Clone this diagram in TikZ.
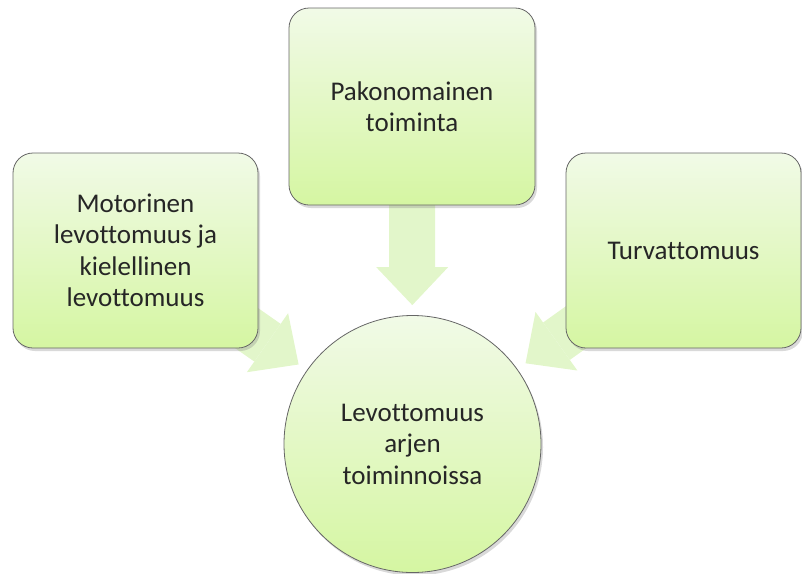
\documentclass[tikz,border=0pt]{standalone}
\usepackage{fontspec}
\setmainfont{Carlito}[Ligatures={NoCommon}]
\usetikzlibrary{shapes,shapes.geometric,arrows.meta,backgrounds,shadows}
\definecolor{vih_yla}{HTML}{F1FAE7}
\definecolor{vih_ala}{HTML}{D5F6A2}
\definecolor{nuoli_v}{HTML}{E2F6CA}
\tikzset{
  solmu/.style = {align=center, inner sep=0pt, text centered, font=\fontsize{27}{31.5}\selectfont, text=black!85,
    draw=black!60, line width=0.8pt, top color=vih_yla, bottom color=vih_ala,
    drop shadow={shadow xshift=2pt, shadow yshift=-3pt, opacity=0.3}},
  box_v/.style = {solmu, rectangle, rounded corners=20pt},
  circ_v/.style = {solmu, circle, minimum size=257pt},
  arr_v/.style = {nuoli_v, line width=46pt, shorten >=10pt, -{Triangle[length=38pt, width=72pt, line width=0pt]}}
}
\begin{document}
\begin{tikzpicture}[x=1pt, y=-1pt]
\useasboundingbox (0,0) rectangle (802,573);
\node [box_v, minimum width=246pt, minimum height=197pt] (pako) at (412,106.5) {Pakonomainen\\toiminta};
\node [box_v, minimum width=245pt, minimum height=195pt] (moto) at (135.5,250.5) {Motorinen\\levottomuus ja\\kielellinen\\levottomuus};
\node [box_v, minimum width=235pt, minimum height=195pt] (turva) at (683.5,250.5) {Turvattomuus};
\node [circ_v] (levo) at (412.5,444) {Levottomuus\\arjen\\toiminnoissa};
\begin{scope}[on background layer]
	\draw [arr_v] (pako.center) -- (levo);
	\draw [arr_v] (moto.center) -- (levo);
	\draw [arr_v] (turva.center) -- (levo);
\end{scope}
\end{tikzpicture}
\end{document}
